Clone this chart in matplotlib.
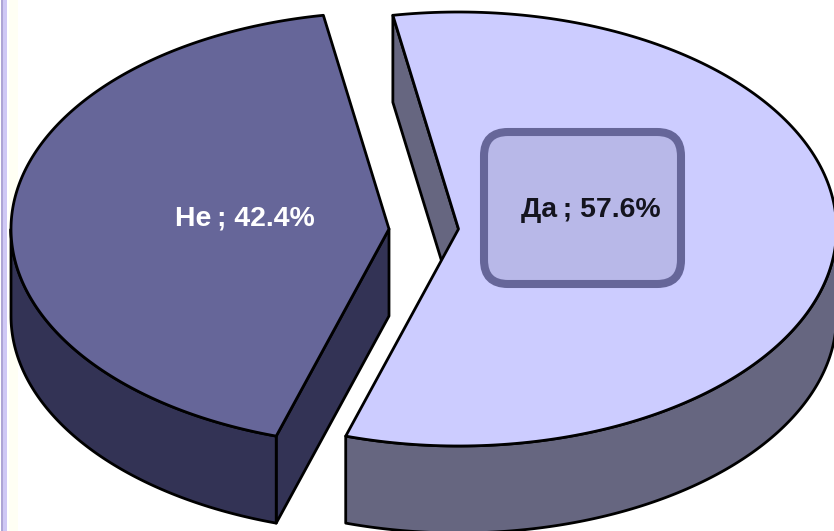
#!/usr/bin/env python3
"""Exploded 3D-look pie chart: Да / Не shares."""

import matplotlib

matplotlib.use("Agg")

import matplotlib.pyplot as plt  # noqa: E402
import numpy as np  # noqa: E402
from matplotlib.patches import FancyBboxPatch, Polygon  # noqa: E402

plt.rcParams["font.family"] = ["Liberation Sans", "DejaVu Sans"]

LABELS = ["Да", "Не"]
SHARES = [57.6, 42.4]

TOP_COLORS = ["#CCCCFF", "#666699"]
SIDE_COLORS = ["#666680", "#333355"]
TEXT_COLORS = ["#14141E", "#FFFFFF"]

# pie geometry in image pixels
START_ANGLE = -10
CENTERS = [(458.5, 229), (389, 229)]
RX, RY = 378, 217
DEPTH = 87
LW = 2.0


def rim(cx, cy, a0, a1, dy=0):
    """Ellipse points, angle clockwise from the top, in degrees."""
    t = np.radians(np.linspace(a0, a1, 200))
    return np.column_stack([cx + RX * np.sin(t), cy - RY * np.cos(t) + dy])


def add_poly(ax, pts, color):
    ax.add_patch(
        Polygon(pts, closed=True, facecolor=color, edgecolor="black", linewidth=LW, joinstyle="round")
    )


def draw_slice(ax, center, a0, a1, top, side):
    cx, cy = center
    apex = np.array([[cx, cy]])
    down = np.array([[cx, cy + DEPTH]])

    # cut face at the slice start, the other one is hidden
    p = rim(cx, cy, a0, a0)[:1]
    add_poly(ax, np.vstack([apex, p, p + [0, DEPTH], down]), side)

    # outer wall, only the part facing the viewer (90..270 deg)
    lo, hi = max(a0, 90), min(a1, 270)
    add_poly(ax, np.vstack([rim(cx, cy, lo, hi), rim(cx, cy, lo, hi, DEPTH)[::-1]]), side)

    add_poly(ax, np.vstack([apex, rim(cx, cy, a0, a1)]), top)


def main():
    fig = plt.figure(figsize=(8.34, 5.31), dpi=100)
    ax = fig.add_axes([0, 0, 1, 1])
    ax.set_xlim(0, 834)
    ax.set_ylim(531, 0)
    ax.axis("off")

    # slide border on the left
    ax.axvspan(1, 3.5, color="#ADA5D5", lw=0)
    ax.axvspan(3.5, 7, color="#CFC8F5", lw=0)
    ax.axvspan(9, 18, color="#FFFFF4", lw=0)

    angles = START_ANGLE + np.cumsum([0] + SHARES) * 3.6
    for i in range(len(SHARES)):
        draw_slice(ax, CENTERS[i], angles[i], angles[i + 1], TOP_COLORS[i], SIDE_COLORS[i])

    ax.add_patch(
        FancyBboxPatch(
            (506, 154),
            153,
            108,
            boxstyle="round,pad=22,rounding_size=24",
            facecolor="#B8B8E8",
            edgecolor="#666699",
            linewidth=5.8,
        )
    )

    positions = [(591, 210), (245, 218)]
    for i, (x, y) in enumerate(positions):
        ax.text(
            x,
            y,
            f"{LABELS[i]}\u2009; {SHARES[i]:.1f}%",
            ha="center",
            va="center",
            fontsize=20.4,
            fontweight="bold",
            color=TEXT_COLORS[i],
        )

    fig.savefig("out.png", dpi=100, facecolor="white")
    plt.close()


if __name__ == "__main__":
    main()
